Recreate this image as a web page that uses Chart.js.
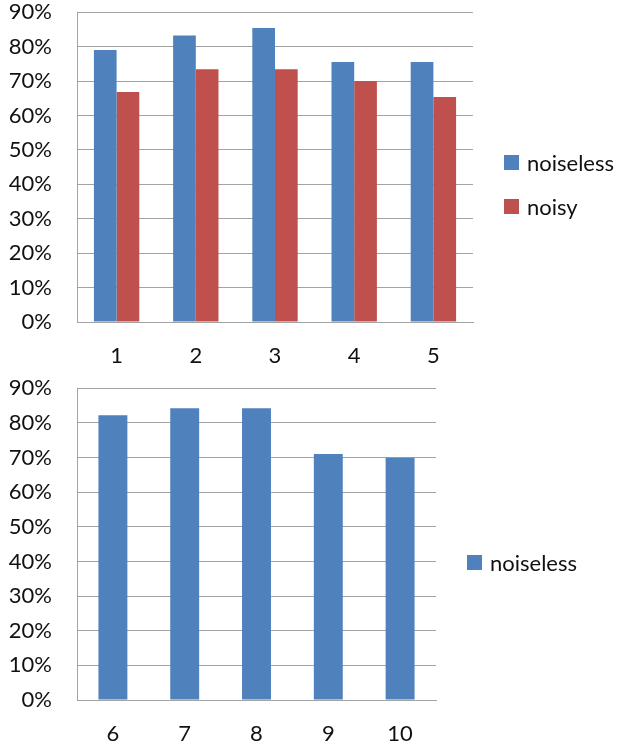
<!DOCTYPE html>
<html>
<head>
<meta charset="utf-8">
<script src="https://cdn.jsdelivr.net/npm/chart.js@4"></script>
<style>
  body { margin: 0; background: #fff; overflow: hidden; }
  #wadah { position: relative; width: 619px; height: 749px; overflow: hidden; font-family: Lato, sans-serif; }
  canvas { position: absolute; left: 0; }
  #grafik-atas { top: -26px; }
  #grafik-bawah { top: 350px; }
  .legenda-item { position: absolute; display: flex; align-items: center; font-size: 22px; color: #111; white-space: nowrap; }
  .legenda-kotak { width: 15px; height: 15px; margin-right: 8px; }
</style>
</head>
<body>
<div id="wadah">
  <canvas id="grafik-atas" width="619" height="398"></canvas>
  <canvas id="grafik-bawah" width="619" height="400"></canvas>
</div>
<script>
// Data grafik atas
const kategoriAtas = ['1', '2', '3', '4', '5'];
const noiselessAtas = [79, 83.2, 85.4, 75.5, 75.5];
const noisyAtas = [66.8, 73.4, 73.4, 70, 65.4];

// Data grafik bawah
const kategoriBawah = ['6', '7', '8', '9', '10'];
const noiselessBawah = [82.2, 84.2, 84.2, 71, 69.9];

// Sumbu Y: 0% - 90%
const batasY = 90;
const langkahY = 10;

const warnaBiru = '#4F81BD';
const warnaMerah = '#C0504D';
const warnaGaris = '#a3a3a3';

Chart.defaults.font.family = 'Lato, sans-serif';
Chart.defaults.color = '#111';

function opsiGrafik(kanan, persenKategori) {
  return {
    responsive: false,
    animation: false,
    layout: { padding: { left: 7, right: kanan, top: 0, bottom: 0 } },
    plugins: { legend: { display: false }, tooltip: { enabled: false } },
    datasets: { bar: { categoryPercentage: persenKategori, barPercentage: 1 } },
    scales: {
      x: {
        grid: { display: false, drawTicks: false },
        border: { color: warnaGaris },
        ticks: { font: { size: 22 }, padding: 21 },
        afterFit: (skala) => { skala.height = 50; }
      },
      y: {
        min: 0,
        max: batasY,
        grid: { color: warnaGaris, drawTicks: false },
        border: { color: warnaGaris },
        ticks: {
          stepSize: langkahY,
          font: { size: 22 },
          padding: 25,
          callback: (v) => v + '%'
        },
        afterFit: (skala) => { skala.width = 70; }
      }
    }
  };
}

// Legenda dibuat sebagai teks HTML di samping grafik
function buatLegenda(daftar, kiri, atas, jarak) {
  const wadah = document.getElementById('wadah');
  daftar.forEach((item, i) => {
    const el = document.createElement('div');
    el.className = 'legenda-item';
    el.style.left = kiri + 'px';
    el.style.top = (atas + i * jarak) + 'px';
    el.innerHTML = `<span class="legenda-kotak" style="background:${item.warna}"></span><span>${item.label}</span>`;
    wadah.appendChild(el);
  });
}

function tampilkanGrafikAtas() {
  new Chart(document.getElementById('grafik-atas'), {
    type: 'bar',
    data: {
      labels: kategoriAtas,
      datasets: [
        { label: 'noiseless', data: noiselessAtas, backgroundColor: warnaBiru },
        { label: 'noisy', data: noisyAtas, backgroundColor: warnaMerah }
      ]
    },
    options: opsiGrafik(146, 0.573)
  });
  buatLegenda([
    { label: 'noiseless', warna: warnaBiru },
    { label: 'noisy', warna: warnaMerah }
  ], 504, 149, 44);
}

function tampilkanGrafikBawah() {
  new Chart(document.getElementById('grafik-bawah'), {
    type: 'bar',
    data: {
      labels: kategoriBawah,
      datasets: [
        { label: 'noiseless', data: noiselessBawah, backgroundColor: warnaBiru }
      ]
    },
    options: opsiGrafik(183, 0.403)
  });
  buatLegenda([{ label: 'noiseless', warna: warnaBiru }], 467, 549, 44);
}

tampilkanGrafikAtas();
tampilkanGrafikBawah();
</script>
</body>
</html>
